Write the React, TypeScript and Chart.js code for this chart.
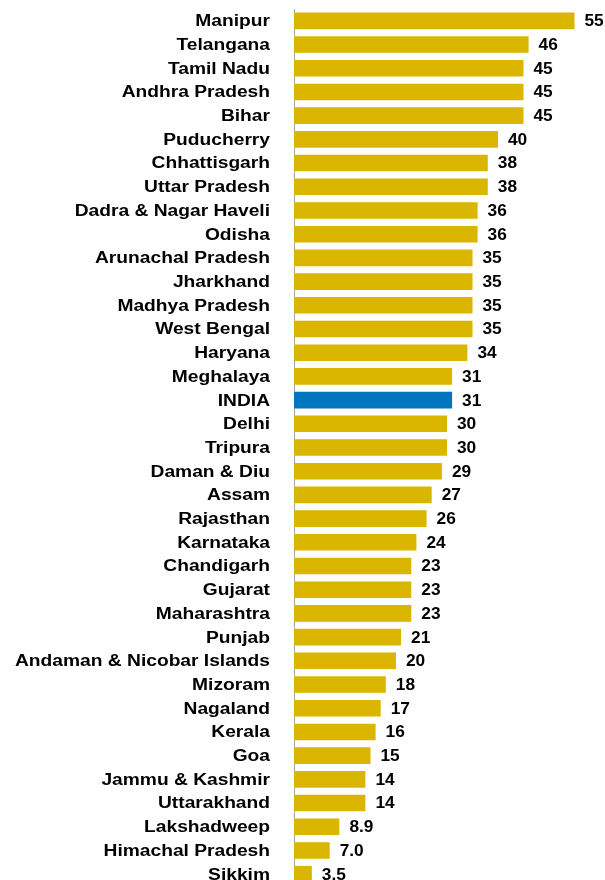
import React, { useEffect, useRef } from "react";
import { Chart, registerables } from "chart.js";

Chart.register(...registerables);

const categories = [
  "Manipur", "Telangana", "Tamil Nadu", "Andhra Pradesh", "Bihar", "Puducherry",
  "Chhattisgarh", "Uttar Pradesh", "Dadra & Nagar Haveli", "Odisha",
  "Arunachal Pradesh", "Jharkhand", "Madhya Pradesh", "West Bengal", "Haryana",
  "Meghalaya", "INDIA", "Delhi", "Tripura", "Daman & Diu", "Assam", "Rajasthan",
  "Karnataka", "Chandigarh", "Gujarat", "Maharashtra", "Punjab",
  "Andaman & Nicobar Islands", "Mizoram", "Nagaland", "Kerala", "Goa",
  "Jammu & Kashmir", "Uttarakhand", "Lakshadweep", "Himachal Pradesh", "Sikkim",
];

const values = [
  55, 46, 45, 45, 45, 40, 38, 38, 36, 36, 35, 35, 35, 35, 34, 31, 31, 30, 30, 29,
  27, 26, 24, 23, 23, 23, 21, 20, 18, 17, 16, 15, 14, 14, 8.9, 7.0, 3.5,
];

const highlight = "INDIA";
const YELLOW = "#DAB600";
const BLUE = "#0076C0";
const FONT = "'Liberation Sans', Arial, sans-serif";

const fmt = (v: number) => (v < 10 ? v.toFixed(1) : v.toFixed(0));

const textPlugin = {
  id: "textPlugin",
  afterDatasetsDraw(chart: any) {
    const ctx = chart.ctx;
    const meta = chart.getDatasetMeta(0);
    const yScale = chart.scales.y;
    ctx.save();
    ctx.fillStyle = "#000";
    ctx.textBaseline = "middle";
    // value labels
    ctx.font = `bold 16px ${FONT}`;
    ctx.textAlign = "left";
    meta.data.forEach((bar: any, i: number) => {
      ctx.save();
      ctx.translate(bar.x + 10, bar.y + 1);
      ctx.scale(1.08, 1);
      ctx.fillText(fmt(values[i]), 0, 0);
      ctx.restore();
    });
    // category labels (horizontally stretched like the reference)
    ctx.textAlign = "right";
    const rightX = yScale.right - 24;
    categories.forEach((c, i) => {
      const y = yScale.getPixelForTick(i);
      ctx.save();
      ctx.translate(rightX, y + 1);
      ctx.scale(1.2, 1);
      ctx.fillText(c, 0, 0);
      ctx.restore();
    });
    ctx.restore();
  },
};

export default function App() {
  const ref = useRef<HTMLCanvasElement>(null);
  useEffect(() => {
    if (!ref.current) return;
    const chart = new Chart(ref.current, {
      type: "bar",
      data: {
        labels: categories,
        datasets: [
          {
            data: values,
            backgroundColor: categories.map((c) => (c === highlight ? BLUE : YELLOW)),
            borderWidth: 0,
            categoryPercentage: 1,
            barPercentage: 0.7,
          },
        ],
      },
      options: {
        indexAxis: "y",
        responsive: false,
        animation: false,
        layout: { padding: { top: 9, bottom: 0, left: 0, right: 5 } },
        plugins: { legend: { display: false }, tooltip: { enabled: false } },
        scales: {
          x: { display: false, min: 0, max: 60 },
          y: {
            grid: { display: false, drawTicks: false },
            border: { display: true, color: "#A6A6A6", width: 1 },
            ticks: { display: false },
            afterFit: (scale: any) => {
              scale.width = 294;
            },
          },
        },
      },
      plugins: [textPlugin],
    });
    return () => chart.destroy();
  }, []);
  return (
    <div style={{ position: "fixed", left: 0, top: 0, width: 605, height: 886 }}>
      <canvas ref={ref} width={605} height={886} />
    </div>
  );
}
